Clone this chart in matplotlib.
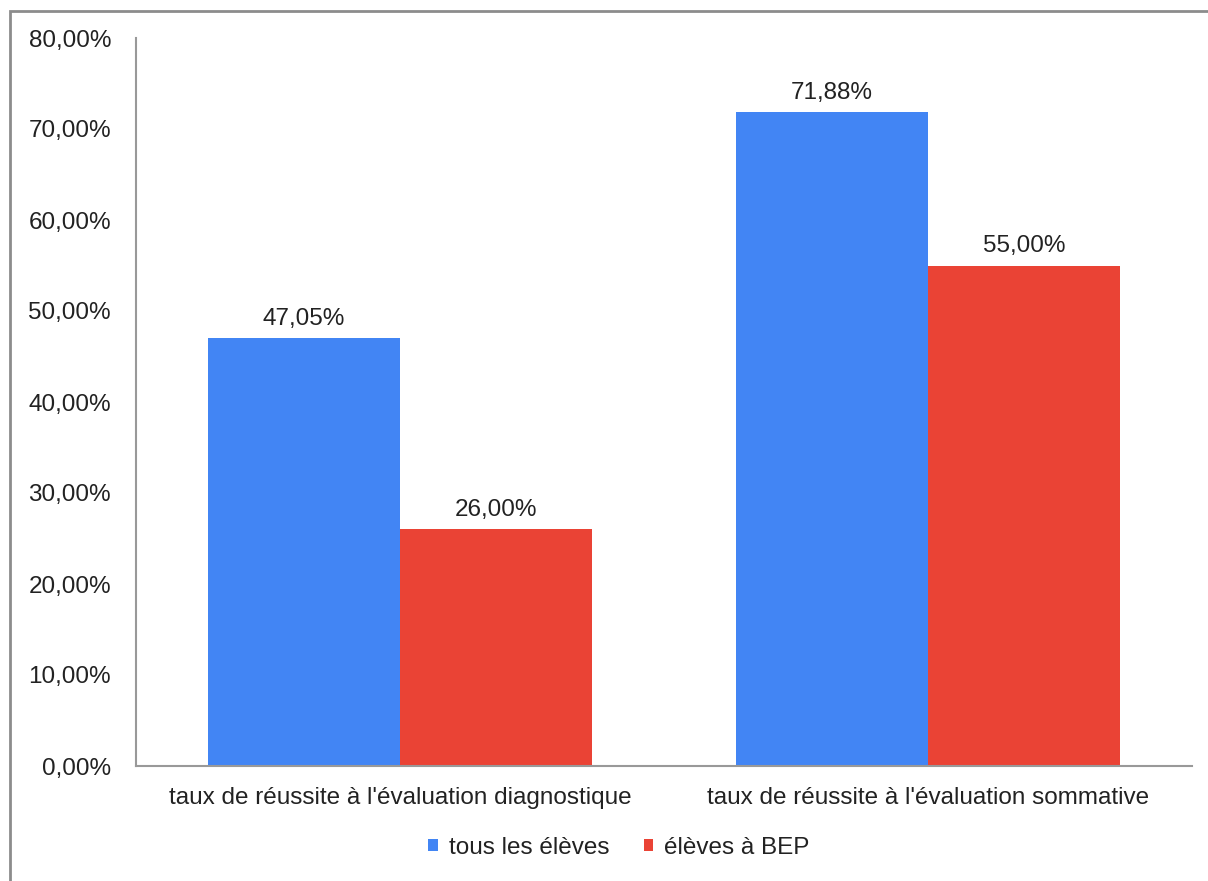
import matplotlib
matplotlib.use("Agg")
import matplotlib.pyplot as plt
from matplotlib.patches import Rectangle
from matplotlib.ticker import FuncFormatter
import numpy as np

categories = ["taux de réussite à l'évaluation diagnostique",
              "taux de réussite à l'évaluation sommative"]
series_names = ["tous les élèves", "élèves à BEP"]
tous = [47.05, 71.88]
bep = [26.00, 55.00]
colors = ["#4285F4", "#EA4335"]
yticks = [0, 10, 20, 30, 40, 50, 60, 70, 80]

plt.rcParams['font.family'] = ['Liberation Sans', 'DejaVu Sans']
FS = 17.5
TXT = "#222222"

fig = plt.figure(figsize=(12.08, 8.81), dpi=100)
fig.patch.set_facecolor("white")
ax = fig.add_axes([136/1208, 1-766/881, (1192-136)/1208, (766-38)/881])

x = np.arange(len(categories))
w = 0.3636
b1 = ax.bar(x - w/2, tous, w, color=colors[0], label=series_names[0])
b2 = ax.bar(x + w/2, bep, w, color=colors[1], label=series_names[1])

fmt = lambda v: f"{v:.2f}".replace(".", ",") + "%"
for bars, vals in ((b1, tous), (b2, bep)):
    ax.bar_label(bars, labels=[fmt(v) for v in vals], padding=6,
                 fontsize=FS, color=TXT)

ax.set_xlim(-0.5, 1.5)
ax.set_ylim(0, 80)
ax.set_yticks(yticks)
ax.yaxis.set_major_formatter(FuncFormatter(lambda v, p: f"{v:.2f}".replace(".", ",") + "%"))
ax.set_xticks(x)
ax.set_xticklabels(categories)
ax.tick_params(axis="both", length=0, labelsize=FS, colors=TXT)
ax.tick_params(axis="y", pad=18)
ax.tick_params(axis="x", pad=15)
for s in ("top", "right"):
    ax.spines[s].set_visible(False)
for s in ("left", "bottom"):
    ax.spines[s].set_color("#999999")
    ax.spines[s].set_linewidth(1.5)

leg = fig.legend(handles=[b1, b2], labels=series_names, loc="center",
                 bbox_to_anchor=(619/1208, 1-848/881), ncol=2, frameon=False,
                 fontsize=FS, handlelength=0.4, handleheight=0.4,
                 handletextpad=0.45, columnspacing=1.4, labelcolor=TXT)

fig.patches.append(Rectangle((10/1208, -0.1), 1.2, (881-11)/881 + 0.1,
                             transform=fig.transFigure, fill=False,
                             edgecolor="#8c8c8c", linewidth=2))

fig.savefig("out.png", dpi=100)
